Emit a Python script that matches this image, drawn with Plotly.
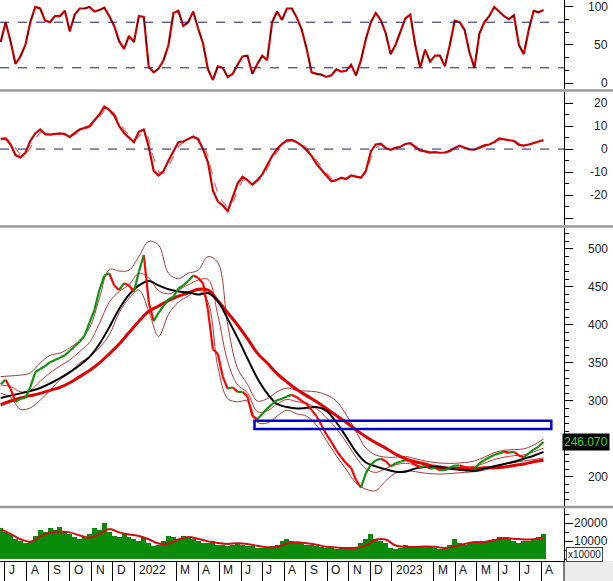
import pandas as pd
import plotly.graph_objects as go

# ---------------- data ----------------
weeks = pd.date_range("2021-06-25", periods=111, freq="7D")
fortnights = weeks[::2]

close = [322, 328, 316, 299, 303, 304, 318, 338, 342, 346,
         351, 354, 357, 360, 366, 372, 378, 386, 403, 420,
         446, 465, 468, 452, 446, 455, 452, 444, 470, 492,
         430, 405, 416, 425, 434, 437, 448, 452, 458, 465,
         462, 455, 420, 368, 362, 332, 316, 318, 312, 312,
         306, 280, 276, 283, 290, 296, 301, 303, 306, 308,
         305, 300, 296, 288, 280, 268, 256, 246, 235, 226,
         218, 212, 196, 186, 205, 216, 222, 224, 221, 214,
         218, 220, 222, 221, 216, 212, 215, 211, 212, 209,
         209, 212, 215, 215, 213, 212, 210, 218, 222, 226,
         229, 231, 233, 232, 233, 228, 226, 231, 236, 240, 246.07]

stoch_k = [54, 80, 55, 25, 35, 50, 80, 100, 98, 82,
           80, 88, 88, 95, 68, 90, 98, 98, 100, 94,
           96, 99, 88, 75, 55, 45, 62, 54, 88, 87,
           21, 14, 19, 30, 50, 92, 95, 75, 80, 94,
           72, 52, 18, 4, 22, 20, 8, 12, 24, 35,
           36, 12, 25, 36, 30, 80, 94, 83, 98, 98,
           86, 70, 45, 14, 12, 11, 8, 10, 18, 15,
           16, 24, 10, 30, 58, 80, 92, 83, 66, 38,
           50, 68, 85, 90, 50, 20, 44, 28, 36, 36,
           22, 50, 82, 80, 70, 40, 20, 65, 80, 88,
           100, 94, 88, 84, 89, 50, 38, 70, 95, 93, 96]

macd = [4.4, 4.6, 2, -2.6, -3.6, -1.6, 3.5, 6.8, 8.5, 6.5,
        6.3, 6.5, 6.8, 6.5, 5.2, 7, 8.5, 9.2, 10, 12.5,
        15, 18.5, 17, 14.6, 10, 7, 5, 3, 7.5, 8.5,
        1, -9.5, -11.5, -9.5, -5, -1, 3, 3.3, 4.5, 5.5,
        4.2, 0, -5.8, -18, -22.8, -24.5, -27, -21, -15, -12,
        -13.5, -15.5, -13.5, -11, -7, -3, 0, 2.2, 3.8, 4,
        3, 1.5, -0.5, -3, -6.5, -9, -11.5, -14, -13.5, -12.4,
        -13, -11.5, -12, -12.5, -9.5, -1, 2, 2.3, 0.5, -0.3,
        0.5, 1, 2.2, 2.6, 0.8, -0.6, -1, -1.5, -1.3, -1.6,
        -1.5, -0.8, 0.5, 1.5, 0.5, -0.2, -0.3, 0.8, 1.6, 2,
        3, 4.6, 4.3, 4, 3.5, 1.8, 1.5, 2, 2.8, 3.3, 3.9]

macd_signal = [4.0, 4.4, 3.5, 0.5, -2.5, -2.8, 0.5, 4.5, 7.2, 7.5,
               6.6, 6.4, 6.6, 6.6, 5.8, 6.2, 7.6, 8.7, 9.5, 11.4,
               13.8, 17, 17.5, 15.5, 12, 8.5, 6, 4, 5.5, 7.5,
               4.5, -4, -10, -10.5, -7.5, -3, 1, 2.8, 3.8, 4.8,
               4.8, 2, -3, -12, -19.5, -23, -25.5, -23.5, -18, -13.5,
               -13, -14.5, -14, -12, -8.5, -4.5, -1.2, 1.2, 3, 3.8,
               3.4, 2.2, 0.5, -2, -5, -7.8, -10.3, -12.8, -13.5, -12.8,
               -12.8, -12, -11.8, -12.2, -10.5, -4, 0.5, 2, 1.3, 0.2,
               0.2, 0.8, 1.8, 2.4, 1.5, 0.2, -0.7, -1.2, -1.3, -1.5,
               -1.5, -1.1, -0.1, 1, 0.8, 0.2, -0.2, 0.3, 1.2, 1.8,
               2.6, 4, 4.2, 4.1, 3.7, 2.5, 1.7, 1.8, 2.4, 3, 3.6]

volume_k = [17, 15, 14, 11, 10, 9, 10, 13, 16, 15,
            17, 16, 18, 15, 14, 12, 11, 12, 14, 17,
            16, 20, 15, 13, 12, 14, 12, 11, 10, 12,
            9, 7, 8, 10, 13, 12, 11, 13, 12, 11,
            10, 9, 9, 10, 8, 8, 7.5, 8, 8.5, 8,
            7, 7, 6, 6, 6.5, 7, 8, 10, 11, 10,
            9, 9, 8, 8, 7, 6.5, 6, 6, 5.5, 6.5,
            6, 5.5, 6.5, 9, 11, 14, 11, 10, 9, 6,
            5.5, 6, 8, 7, 6, 6.5, 7, 6.5, 6, 5.5,
            6, 8, 11, 9, 8, 9, 9, 10, 10, 10,
            11, 12, 11, 11, 10, 9, 10, 10, 11, 12, 14]

ma_black = [304, 307, 310, 313, 317, 323, 330, 338, 347, 358,
            375, 397, 421, 440, 452, 458, 452, 447, 444, 443,
            440, 442, 431, 408, 383, 356, 330, 310, 296, 292,
            290, 291, 292, 287, 272, 253, 233, 219, 214, 210,
            207, 207, 211, 213, 213, 212, 210, 209, 208, 211,
            214, 217, 220, 224, 228, 233]

ma_red = [295, 300, 304, 307, 310, 314, 318, 324, 332, 340,
          350, 362, 375, 390, 405, 418, 425, 432, 438, 442,
          447, 446, 432, 416, 400, 382, 363, 350, 336, 325,
          315, 307, 299, 290, 281, 272, 262, 253, 245, 238,
          230, 224, 220, 217, 214, 212, 211, 211, 211, 212,
          212, 213, 215, 217, 220, 222]

bb_upper = [332, 333, 334, 337, 350, 360, 363, 370, 380, 396,
            435, 473, 471, 472, 490, 510, 505, 468, 461, 468,
            472, 490, 482, 400, 343, 322, 300, 303, 312, 317,
            314, 313, 312, 308, 300, 282, 260, 238, 229, 226,
            226, 227, 224, 221, 219, 218, 218, 219, 221, 226,
            232, 235, 236, 237, 242, 250]

bb_mid = [321, 319, 312, 314, 326, 337, 346, 354, 365, 377,
          402, 430, 444, 453, 468, 462, 445, 441, 446, 453,
          459, 460, 413, 352, 321, 311, 286, 287, 296, 302,
          299, 297, 290, 278, 264, 246, 226, 211, 206, 211,
          216, 218, 216, 213, 212, 211, 212, 213, 214, 218,
          223, 226, 228, 229, 233, 238]

bb_lower = [310, 305, 289, 291, 301, 314, 328, 337, 350, 358,
            370, 387, 416, 435, 446, 418, 385, 414, 430, 438,
            446, 430, 345, 303, 299, 300, 272, 271, 280, 288,
            283, 280, 268, 248, 228, 210, 192, 184, 182, 195,
            205, 208, 207, 205, 204, 204, 205, 206, 207, 209,
            213, 217, 219, 221, 223, 225]

vol_ma_k = [16.5, 14, 11, 9.6, 12.5, 14.8, 15.3, 14.8, 13.1, 11.8,
            13.8, 16.7, 14.8, 13.6, 12.8, 11, 8.6, 8.6, 10.9, 12.2,
            11.2, 9.8, 8.9, 8.3, 8.8, 8.3, 7.3, 6.5, 6.8, 8.6,
            9.3, 8.8, 7.9, 6.8, 6.4, 6.1, 6.2, 7.6, 10.7, 10.8,
            7.5, 6.7, 6.7, 7, 6.8, 6.1, 7, 8.3, 9.4, 9.4,
            10.5, 11.6, 11.3, 10.8, 11, 11.7]

month_starts = ["2021-07-01", "2021-08-01", "2021-09-01", "2021-10-01", "2021-11-01",
                "2021-12-01", "2022-01-01", "2022-03-01", "2022-04-01", "2022-05-01",
                "2022-06-01", "2022-07-01", "2022-08-01", "2022-09-01", "2022-10-01",
                "2022-11-01", "2022-12-01", "2023-01-01", "2023-03-01", "2023-04-01",
                "2023-05-01", "2023-06-01", "2023-07-01", "2023-08-01"]
month_labels = ["J", "A", "S", "O", "N", "D", "2022", "M", "A", "M", "J", "J", "A",
                "S", "O", "N", "D", "2023", "M", "A", "M", "J", "J", "A"]

stoch_ticks = [0, 50, 100]
macd_ticks = [20, 10, 0, -10, -20]
price_ticks = [500, 450, 400, 350, 300, 200]
vol_ticks = [20000, 10000]
stoch_levels = [80, 20]
last_price = 246.07
zone_start, zone_end, zone_low, zone_high = "2022-06-20", "2023-08-15", 263, 274

# ---------------- layout geometry ----------------
W, H = 613, 581
PLOT_R = 564            # right edge of plotting area (px)
PLOT_B = 561            # bottom of plotting area (px)

def dom(top_px, bot_px):
    return [1 - bot_px / PLOT_B, 1 - top_px / PLOT_B]

FONT = "Liberation Sans, Arial, sans-serif"

fig = go.Figure()

# stochastic
fig.add_trace(go.Scatter(x=weeks, y=stoch_k, mode="lines", yaxis="y",
                         line=dict(color="#cc0000", width=2.2)))
fig.add_trace(go.Scatter(x=weeks, y=stoch_k, mode="lines", yaxis="y",
                         line=dict(color="#6a0000", width=1, dash="dash")))

# MACD
fig.add_trace(go.Scatter(x=weeks, y=macd_signal, mode="lines", yaxis="y2",
                         line=dict(color="#e07070", width=1.3, dash="dash")))
fig.add_trace(go.Scatter(x=weeks, y=macd, mode="lines", yaxis="y2",
                         line=dict(color="#cc0000", width=2.2)))

# price: bands, MAs
for series, col, wd in [(bb_upper, "#a83a3a", 1), (bb_lower, "#a83a3a", 1),
                        (bb_mid, "#d03030", 1)]:
    fig.add_trace(go.Scatter(x=fortnights, y=series, mode="lines", yaxis="y3",
                             line=dict(color=col, width=wd, shape="spline")))
fig.add_trace(go.Scatter(x=fortnights, y=ma_red, mode="lines", yaxis="y3",
                         line=dict(color="#e00000", width=3, shape="spline")))
fig.add_trace(go.Scatter(x=fortnights, y=ma_black, mode="lines", yaxis="y3",
                         line=dict(color="#000000", width=2, shape="spline")))

# price: up (green) and down (red) segments
xg, yg, xr, yr = [], [], [], []
for a in range(len(close) - 1):
    seg_x = [weeks[a], weeks[a + 1], None]
    seg_y = [close[a], close[a + 1], None]
    if close[a + 1] >= close[a]:
        xg += seg_x; yg += seg_y
    else:
        xr += seg_x; yr += seg_y
fig.add_trace(go.Scatter(x=xr, y=yr, mode="lines", yaxis="y3",
                         line=dict(color="#ff0000", width=2.2)))
fig.add_trace(go.Scatter(x=xg, y=yg, mode="lines", yaxis="y3",
                         line=dict(color="#109010", width=2.2)))

# volume
fig.add_trace(go.Bar(x=weeks, y=[v * 1000 for v in volume_k], yaxis="y4",
                     width=7 * 86400000, marker=dict(color="#0a8a0a", line=dict(width=0))))
fig.add_trace(go.Scatter(x=fortnights, y=[v * 1000 for v in vol_ma_k], mode="lines",
                         yaxis="y4", line=dict(color="#cc1010", width=2, shape="spline")))

tick_common = dict(ticks="outside", ticklen=8, tickcolor="black", tickwidth=1,
                   showticklabels=False, showgrid=False, zeroline=False,
                   showline=True, linecolor="black", linewidth=1, side="right",
                   anchor="x", fixedrange=True)

fig.update_layout(
    width=W, height=H,
    margin=dict(l=0, r=W - PLOT_R, t=0, b=H - PLOT_B),
    paper_bgcolor="white", plot_bgcolor="white",
    showlegend=False, bargap=0,
    font=dict(family=FONT, size=12, color="#222"),
    xaxis=dict(type="date", range=["2021-06-24", "2023-09-02"], anchor="y4",
               tickvals=month_starts, ticks="outside", ticklen=20, tickcolor="black",
               showticklabels=False, showgrid=False, zeroline=False,
               showline=True, linecolor="black", linewidth=1, fixedrange=True),
    yaxis=dict(domain=dom(0, 89), range=[-7.9, 109.2], tickvals=stoch_ticks,
               minor=dict(ticks="outside", ticklen=4, tickcolor="black", tick0=0, dtick=50 / 3),
               **tick_common),
    yaxis2=dict(domain=dom(92, 225), range=[-33, 24.8], tick0=0, dtick=10,
                minor=dict(ticks="outside", ticklen=4, tickcolor="black", dtick=5),
                **tick_common),
    yaxis3=dict(domain=dom(228, 506), range=[161.8, 527.6], tick0=0, dtick=50,
                minor=dict(ticks="outside", ticklen=4, tickcolor="black", dtick=10),
                **tick_common),
    yaxis4=dict(domain=dom(508, 561), range=[-1111, 28333], tick0=0, dtick=10000,
                minor=dict(ticks="outside", ticklen=4, tickcolor="black", dtick=5000),
                **tick_common),
)

shapes = []
# dashed reference lines
for lv in stoch_levels:
    shapes.append(dict(type="line", xref="x domain", yref="y", x0=0, x1=1, y0=lv, y1=lv,
                       line=dict(color="#1a1a70", width=1, dash="dash")))
shapes.append(dict(type="line", xref="x domain", yref="y2", x0=0, x1=1, y0=0, y1=0,
                   line=dict(color="#1a1a70", width=1, dash="dash")))
# support zone rectangle
shapes.append(dict(type="rect", xref="x", yref="y3", x0=zone_start, x1=zone_end,
                   y0=zone_low, y1=zone_high, line=dict(color="#0000c8", width=2.5)))
# panel separators
for ypx in [90.5, 226.5, 507]:
    shapes.append(dict(type="line", xref="paper", yref="paper", x0=0, x1=W / PLOT_R,
                       y0=1 - ypx / PLOT_B, y1=1 - ypx / PLOT_B,
                       line=dict(color="#9a9a9a", width=2.5)))
# date row: grey block at right and closing line
shapes.append(dict(type="rect", xref="paper", yref="paper", x0=1.0, x1=W / PLOT_R,
                   y0=-(H - PLOT_B) / PLOT_B, y1=0, fillcolor="#ececec",
                   line=dict(width=0), layer="below"))
shapes.append(dict(type="line", xref="paper", yref="paper", x0=1.0, x1=1.0,
                   y0=-(H - PLOT_B) / PLOT_B, y1=0, line=dict(color="black", width=1)))
fig.update_layout(shapes=shapes)

ann = []
lab_x = 610 / PLOT_R
for ax, vals in [("y", stoch_ticks), ("y2", macd_ticks), ("y3", price_ticks), ("y4", vol_ticks)]:
    for v in vals:
        ann.append(dict(xref="paper", yref=ax, x=lab_x, y=v, text=str(v), showarrow=False,
                        xanchor="right", yanchor="middle", font=dict(size=12, color="#222")))
ann.append(dict(xref="paper", yref="y3", x=lab_x, y=last_price, text=f"{last_price:.3f}",
                showarrow=False, xanchor="right", yanchor="middle", bgcolor="#000000",
                borderpad=1, font=dict(size=12, color="#33dd33")))
ann.append(dict(xref="paper", yref="paper", x=566 / PLOT_R, y=1 - 554 / PLOT_B, text="x10000",
                showarrow=False, xanchor="left", yanchor="middle", bgcolor="white",
                bordercolor="#444", borderwidth=1, borderpad=1,
                font=dict(size=10, color="#222")))
for d, t in zip(month_starts, month_labels):
    ann.append(dict(xref="x", yref="paper", x=d, y=-(570 - PLOT_B) / PLOT_B, text=t,
                    showarrow=False, xanchor="left", yanchor="middle", xshift=2,
                    font=dict(size=12, color="#111")))
fig.update_layout(annotations=ann)

fig.write_html("out.html", config={"displayModeBar": False})
